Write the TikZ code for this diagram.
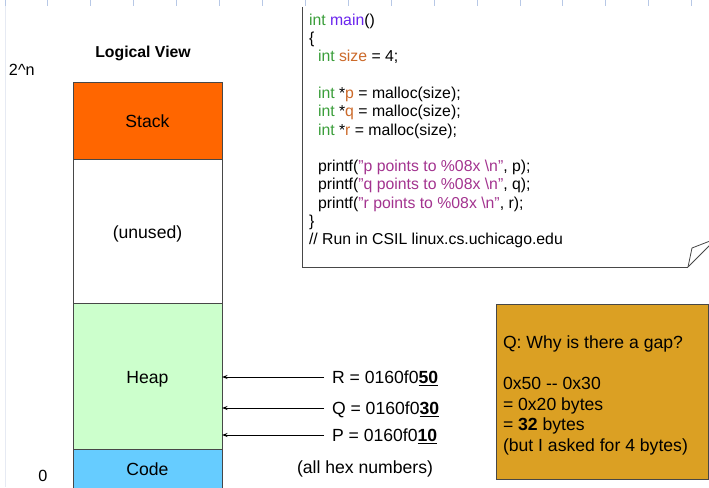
\documentclass[tikz,border=0pt]{standalone}
\usepackage{fontspec}
\setmainfont{Liberation Sans}
\usetikzlibrary{arrows.meta}
\definecolor{stackC}{HTML}{FF6600}
\definecolor{heapC}{HTML}{CCFFCC}
\definecolor{codeC}{HTML}{66CCFF}
\definecolor{goldC}{HTML}{DBA023}
\definecolor{edgeC}{HTML}{474747}
\definecolor{tickC}{HTML}{B7C8E6}
\definecolor{guideC}{HTML}{E6EAF3}
\definecolor{kwC}{HTML}{3A9E3A}
\definecolor{fnC}{HTML}{6A25EE}
\definecolor{varC}{HTML}{CC6A2A}
\definecolor{strC}{HTML}{A3338F}
\newcommand\codefont{\fontsize{15.8pt}{18.3pt}\selectfont}
\newcommand\bigfont{\fontsize{17.6pt}{20.7pt}\selectfont}
\newcommand\kw[1]{\textcolor{kwC}{#1}}
\newcommand\vr[1]{\textcolor{varC}{#1}}
\newcommand\st[1]{\textcolor{strC}{#1}}
\newcommand\sq{\symbol{34}}
\begin{document}
\begin{tikzpicture}[x=1pt,y=-1pt,
  every node/.style={inner sep=0pt,outer sep=0pt},
  memblk/.style={draw=edgeC,line width=0.9pt,minimum width=149pt,font=\bigfont},
  codeln/.style={anchor=base west,font=\codefont},
  lbl/.style={anchor=base west,font=\bigfont},
  arr/.style={-{Stealth[length=5.5pt,width=4pt]},line width=0.9pt},
  tickln/.style={draw=tickC,line width=1pt},
  guideln/.style={draw=guideC,line width=1pt}]
\useasboundingbox (0,0) rectangle (709,487);
% background guide and ruler ticks
\draw[guideln] (5,0) -- (5,487);
\foreach \i in {0,...,16} \draw[tickln] ({5+42.92*\i},0) -- ({5+42.92*\i},6);
% note shape
\fill[white] (302,7) rectangle (712,267);
\draw[edgeC,line width=0.9pt] (302,7) -- (302,267) -- (688,267);
\draw[edgeC,line width=0.8pt,line join=round] (688,267) -- (692,248) -- (710,241);
\draw[edgeC,line width=0.8pt] (688,267) -- (710,245);
% code text
\node[codeln] (c0) at (309,25.2) {\kw{int} \textcolor{fnC}{main}()};
\node[codeln] (c1) at (309,43.5) {\{};
\node[codeln] (c2) at (318,61.8) {\kw{int} \vr{size} = 4;};
\node[codeln] (c4) at (318,98.4) {\kw{int} *\vr{p} = malloc(size);};
\node[codeln] (c5) at (318,116.7) {\kw{int} *\vr{q} = malloc(size);};
\node[codeln] (c6) at (318,135.0) {\kw{int} *\vr{r} = malloc(size);};
\node[codeln] (c8) at (318,171.6) {printf(\st{\textquotedblright p points to \%08x \textbackslash n\sq}, p);};
\node[codeln] (c9) at (318,189.9) {printf(\st{\textquotedblright q points to \%08x \textbackslash n\sq}, q);};
\node[codeln] (c10) at (318,208.2) {printf(\st{\textquotedblright r points to \%08x \textbackslash n\sq}, r);};
\node[codeln] (c11) at (309,226.5) {\}};
\node[codeln] (c12) at (309,244.8) {// Run in CSIL linux.cs.uchicago.edu};
% logical view
\node[font=\codefont\bfseries] (title) at (143,53) {Logical View};
\node[anchor=base west,font=\fontsize{16.2pt}{19pt}\selectfont] (top) at (9,75.8) {2\^{}n};
\node[anchor=base,font=\fontsize{16.2pt}{19pt}\selectfont] (zero) at (43,481.8) {0};
\node[memblk,fill=stackC,minimum height=77pt] (stack) at (147.5,120.5) {};
\node[anchor=base,font=\bigfont] (stacklbl) at (147.5,127.3) {Stack};
\node[memblk,fill=white,minimum height=144pt] (unused) at (147.5,231) {};
\node[anchor=base,font=\bigfont] (unusedlbl) at (147.5,238.3) {(unused)};
\node[memblk,fill=heapC,minimum height=146pt] (heap) at (147.5,376) {};
\node[anchor=base,font=\bigfont] (heaplbl) at (147.5,383.3) {Heap};
\node[memblk,fill=codeC,minimum height=42pt] (code) at (147.5,470) {};
\node[anchor=base,font=\bigfont] (codelbl) at (147.5,475.3) {Code};
% pointers
\node[lbl] (rl) at (332,383.3) {R = 0160f0\underline{\textbf{50}}};
\node[lbl] (ql) at (332,414.3) {Q = 0160f0\underline{\textbf{30}}};
\node[lbl] (pl) at (332,441.3) {P = 0160f0\underline{\textbf{10}}};
\node[lbl] (hex) at (297,473.3) {(all hex numbers)};
\coordinate (ra) at (324,377);
\coordinate (qa) at (324,408);
\coordinate (pa) at (324,435);
\draw[arr] (ra) -- (ra -| heap.east);
\draw[arr] (qa) -- (qa -| heap.east);
\draw[arr] (pa) -- (pa -| heap.east);
% question box
\node[draw=edgeC,line width=0.9pt,fill=goldC,minimum width=212pt,minimum height=175pt] (gap) at (602,391.5) {};
\node[lbl] (g1) at (503,348.3) {Q: Why is there a gap?};
\node[lbl] (g2) at (503,389.3) {0x50 -{}- 0x30};
\node[lbl] (g3) at (503,410.0) {= 0x20 bytes};
\node[lbl] (g4) at (503,430.7) {= \textbf{32} bytes};
\node[lbl] (g5) at (503,451.4) {(but I asked for 4 bytes)};
\end{tikzpicture}
\end{document}
